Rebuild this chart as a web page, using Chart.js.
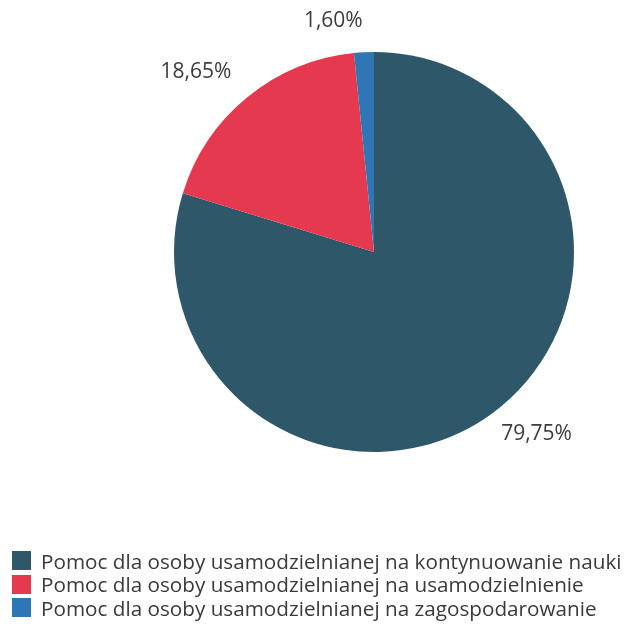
<!DOCTYPE html>
<html><head><meta charset="utf-8">
<script src="https://cdn.jsdelivr.net/npm/chart.js@4"></script>
<style>
html,body{margin:0;padding:0;background:#fff;}
#wrap{position:relative;width:630px;height:630px;overflow:hidden;}
#c{position:absolute;left:0;top:0;}
#legend{position:absolute;left:12px;top:549px;font-family:'Open Sans',sans-serif;font-size:20.7px;color:#3a3a3a;}
.item{display:flex;align-items:center;height:23.5px;white-space:nowrap;}
.box{width:19px;height:19px;margin-right:10px;flex:none;}
</style></head>
<body><div id="wrap"><canvas id="c" width="630" height="630"></canvas><div id="legend"></div></div>
<script>
const categories = [
  'Pomoc dla osoby usamodzielnianej na kontynuowanie nauki',
  'Pomoc dla osoby usamodzielnianej na usamodzielnienie',
  'Pomoc dla osoby usamodzielnianej na zagospodarowanie'
];
const values = [79.75, 18.65, 1.60];
const valueLabels = ['79,75%', '18,65%', '1,60%'];
const colors = ['#2e586a', '#e5394f', '#2f77b4'];

const outsideLabels = {
  id: 'outsideLabels',
  afterDatasetsDraw(chart) {
    const ctx = chart.ctx;
    const meta = chart.getDatasetMeta(0);
    ctx.save();
    ctx.font = '21px "Open Sans"';
    ctx.fillStyle = '#3c3c3c';
    ctx.textBaseline = 'alphabetic';
    meta.data.forEach((arc, i) => {
      const p = arc.getProps(['x','y','startAngle','endAngle','outerRadius'], true);
      const mid = (p.startAngle + p.endAngle) / 2;
      const dx = Math.cos(mid), dy = Math.sin(mid);
      const d = p.outerRadius + (dx >= 0 ? 14 : 25);
      const ax = p.x + dx * d, ay = p.y + dy * d;
      const txt = valueLabels[i];
      const m = ctx.measureText(txt);
      const asc = m.actualBoundingBoxAscent;
      ctx.textAlign = dx >= 0 ? 'left' : 'right';
      const by = dy >= 0 ? ay + asc : ay;
      ctx.fillText(txt, ax, by);
    });
    ctx.restore();
  }
};

const chart = new Chart(document.getElementById('c'), {
  type: 'pie',
  data: {
    labels: categories,
    datasets: [{ data: values, backgroundColor: colors, borderWidth: 0 }]
  },
  options: {
    responsive: false,
    animation: false,
    devicePixelRatio: 1,
    layout: { padding: { left: 174, right: 56, top: 52, bottom: 178 } },
    plugins: { legend: { display: false }, tooltip: { enabled: false } }
  },
  plugins: [outsideLabels]
});

const leg = document.getElementById('legend');
chart.data.labels.forEach((l, i) => {
  const it = document.createElement('div');
  it.className = 'item';
  const b = document.createElement('span');
  b.className = 'box';
  b.style.background = chart.data.datasets[0].backgroundColor[i];
  const t = document.createElement('span');
  t.textContent = l;
  it.appendChild(b); it.appendChild(t);
  leg.appendChild(it);
});
</script>
</body></html>
